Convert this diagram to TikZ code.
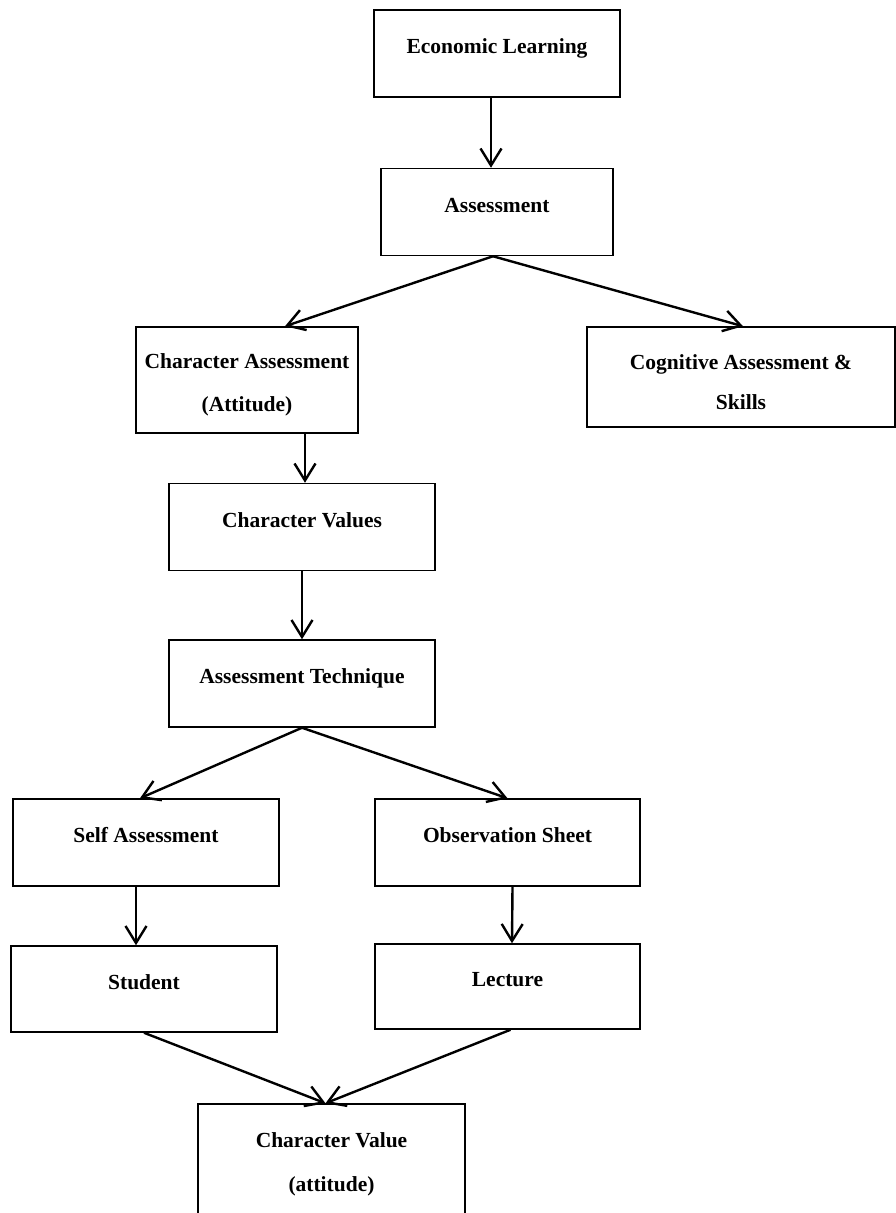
\documentclass[tikz,border=0pt]{standalone}
\usepackage{fontspec}
\setmainfont{Liberation Serif}
\usepackage{tikz}
\usetikzlibrary{arrows.meta}

\begin{document}
\begin{tikzpicture}[
  x=1pt, y=-1pt,
  font=\fontsize{21.5}{25}\selectfont\bfseries,
  >={Straight Barb[length=17pt,width=21pt]},
  box/.style={draw, line width=1.5pt, align=center, inner sep=0pt},
  one/.style={box, minimum height=87pt, text height=15pt, text depth=15pt},
  two/.style={box, text height=67pt, text depth=5pt},
  link/.style={->, line width=2.4pt}
]
\useasboundingbox (0,0) rectangle (896,1213);
% top chain
\node[one, minimum width=246pt] (econ)   at (497,53.5) {Economic Learning};
\node[one, minimum width=232pt] (assess) at (497,212)  {Assessment};
% two kinds of assessment
\node[two, minimum width=222pt, minimum height=106pt] (charass) at (247,380) {Character Assessment\\[18pt](Attitude)};
\node[two, minimum width=308pt, minimum height=100pt, text height=66pt, text depth=2pt] (cog) at (741,377) {Cognitive Assessment \&\\[15pt]Skills};
% character branch
\node[one, minimum width=266pt] (charval) at (302,527)   {Character Values};
\node[one, minimum width=266pt] (tech)    at (302,683.5) {Assessment Technique};
\node[one, minimum width=266pt] (selfass) at (146,842.5) {Self Assessment};
\node[one, minimum width=265pt] (obs)     at (507.5,842.5) {Observation Sheet};
\node[one, minimum width=266pt, minimum height=86pt] (student) at (144,989) {Student};
\node[one, minimum width=265pt, minimum height=85pt] (lecture) at (507.5,986.5) {Lecture};
\node[two, minimum width=267pt, minimum height=116pt, text height=63pt] (cv) at (331.5,1162) {Character Value\\[19pt](attitude)};
% arrows
\draw[link] ([xshift=-6pt]econ.south) -- ([xshift=-6pt]assess.north);
\draw[link] ([xshift=-4pt]assess.south) -- ([xshift=38pt]charass.north);
\draw[link] ([xshift=-4pt]assess.south) -- ([xshift=2pt]cog.north);
\draw[link] ([xshift=58pt]charass.south) -- ([xshift=3pt]charval.north);
\draw[link] (charval) -- (tech);
\draw[link] (tech.south) -- ([xshift=-6pt]selfass.north);
\draw[link] (tech.south) -- (obs.north);
\draw[link] ([xshift=-10pt]selfass.south) -- ([xshift=-8pt]student.north);
\draw[link] ([xshift=5pt]obs.south) -- ([xshift=4.5pt]lecture.north);
\draw[link] (student.south) -- ([xshift=-6pt]cv.north);
\draw[link] ([xshift=3pt]lecture.south) -- ([xshift=-6pt]cv.north);
\end{tikzpicture}
\end{document}
